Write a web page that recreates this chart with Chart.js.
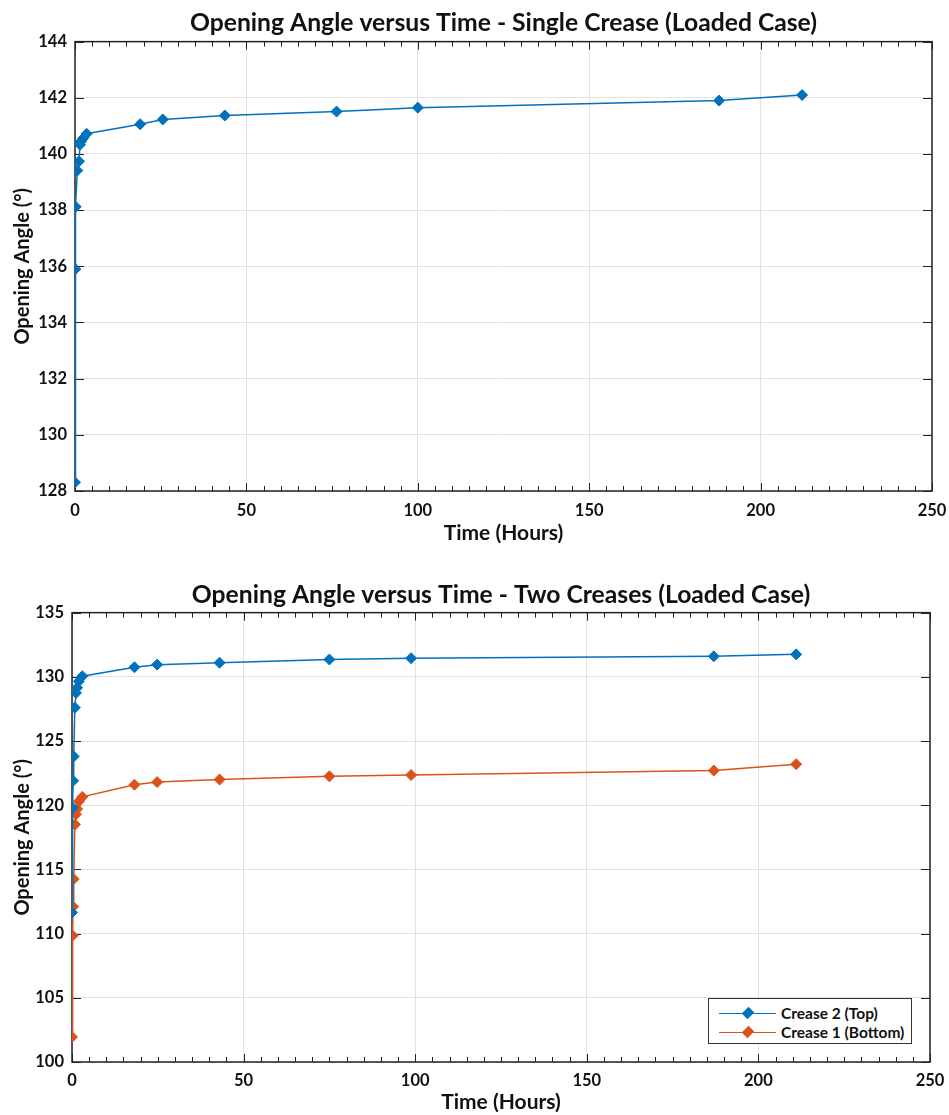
<!DOCTYPE html>
<html>
<head>
<meta charset="utf-8">
<script src="https://cdn.jsdelivr.net/npm/chart.js@4/dist/chart.umd.min.js"></script>
<style>
  body { margin: 0; background: #fff; width: 949px; height: 1115px; position: relative; overflow: hidden; }
  canvas { position: absolute; left: 0; }
  #legend {
    position: absolute; left: 708px; top: 998px; width: 204px; height: 46px;
    border: 1.5px solid #333; background: #fff; box-sizing: border-box;
    font: bold 15.5px Lato, sans-serif; color: #111;
  }
  .row { position: absolute; left: 0; height: 19px; width: 100%; }
  .row .ln { position: absolute; left: 10px; width: 57px; top: 9px; border-top: 1.5px solid; }
  .row .dm { position: absolute; left: 35px; top: 5px; width: 8px; height: 8px; transform: rotate(45deg) scaleY(1.2); }
  .row .tx { position: absolute; left: 72px; top: 0; line-height: 19px; }
</style>
</head>
<body>
<canvas id="topChart" width="949" height="555" style="top:0"></canvas>
<canvas id="bottomChart" width="949" height="560" style="top:555px"></canvas>
<div id="legend"></div>
<script>
// data
const singleTime = [0, 0.1, 0.2, 0.67, 1.17, 1.46, 1.75, 2.4, 3.4, 19, 25.6, 43.7, 76.3, 100, 187.9, 212.1]
const singleAngle = [128.31, 135.9, 138.12, 139.41, 139.74, 140.33, 140.45, 140.56, 140.72, 141.06, 141.23, 141.37, 141.51, 141.65, 141.9, 142.1]

const twoTime = [0, 0.17, 0.33, 0.5, 0.83, 1.17, 1.5, 2, 3, 18.2, 24.8, 43, 75, 98.8, 187, 211]
const crease2Top = [111.65, 119.8, 121.9, 123.8, 127.6, 128.75, 129.15, 129.65, 130.05, 130.75, 130.95, 131.1, 131.35, 131.45, 131.6, 131.75]
const crease1Bottom = [101.95, 109.85, 112.1, 114.25, 118.5, 119.3, 119.7, 120.3, 120.65, 121.6, 121.8, 122.0, 122.25, 122.35, 122.7, 123.2]

const xTicks = [0, 50, 100, 150, 200, 250]
const singleYTicks = [128, 130, 132, 134, 136, 138, 140, 142, 144]
const twoYTicks = [100, 105, 110, 115, 120, 125, 130, 135]

const BLUE = "#0072BD"
const ORANGE = "#D95319"
const FONT = "Lato, 'Open Sans', sans-serif"

// box + inward ticks like the original figure
const frameTicks = {
  id: "frameTicks",
  beforeDatasetsDraw(chart) {
    const { ctx, chartArea: a, scales: { x, y } } = chart
    ctx.save()
    ctx.strokeStyle = "#222"
    ctx.lineWidth = 1
    ctx.beginPath()
    for (let v = x.min; v <= x.max; v += 5) {
      const px = Math.round(x.getPixelForValue(v)) + 0.5
      const len = v % 50 === 0 ? 8 : 5
      ctx.moveTo(px, a.bottom); ctx.lineTo(px, a.bottom - len)
      ctx.moveTo(px, a.top); ctx.lineTo(px, a.top + len)
    }
    y.ticks.forEach((t) => {
      const py = Math.round(y.getPixelForValue(t.value)) + 0.5
      ctx.moveTo(a.left, py); ctx.lineTo(a.left + 9, py)
      ctx.moveTo(a.right, py); ctx.lineTo(a.right - 9, py)
    })
    ctx.stroke()
    ctx.lineWidth = 1.5
    ctx.strokeRect(a.left, a.top, a.right - a.left, a.bottom - a.top)
    ctx.restore()
  },
}

const makeSeries = (label, times, values, color) => ({
  label: label,
  data: times.map((t, i) => ({ x: t, y: values[i] })),
  borderColor: color,
  backgroundColor: color,
  borderWidth: 1.5,
  pointStyle: "rectRot",
  pointRadius: 5.5,
  pointBorderWidth: 1,
  tension: 0,
})

const makeConfig = (datasets, titleText, yTicks, lay) => ({
  type: "line",
  data: { datasets: datasets },
  options: {
    responsive: false,
    animation: false,
    layout: { padding: { left: 0, right: lay.right, top: lay.top, bottom: 0 } },
    plugins: {
      legend: { display: false },
      tooltip: { enabled: false },
      title: {
        display: true,
        fullSize: false,
        text: titleText,
        color: "#111",
        font: { family: FONT, size: 24.7, weight: "bold" },
        padding: { top: 8, bottom: lay.titleBottom },
      },
    },
    scales: {
      x: {
        type: "linear",
        min: 0,
        max: 250,
        afterFit: (scale) => {
          scale.height = lay.xHeight
          scale.paddingLeft = 0
          scale.paddingRight = 0
        },
        afterBuildTicks: (scale) => { scale.ticks = xTicks.map((v) => ({ value: v })) },
        ticks: { color: "#111", padding: lay.xPad, font: { family: FONT, size: 16.5, weight: "bold" } },
        grid: { color: "#e2e2e2", drawTicks: false },
        border: { display: false },
        title: {
          display: true,
          text: "Time (Hours)",
          color: "#111",
          font: { family: FONT, size: 21, weight: "bold" },
          padding: { top: 0, bottom: lay.xTitleBottom },
        },
      },
      y: {
        min: yTicks[0],
        max: yTicks[yTicks.length - 1],
        afterFit: (scale) => { scale.width = lay.yWidth },
        afterBuildTicks: (scale) => { scale.ticks = yTicks.map((v) => ({ value: v })) },
        ticks: { color: "#111", padding: 8, font: { family: FONT, size: 16.5, weight: "bold" } },
        grid: { color: "#e2e2e2", drawTicks: false },
        border: { display: false },
        title: {
          display: true,
          text: "Opening Angle (°)",
          color: "#111",
          font: { family: FONT, size: 20, weight: "bold" },
          padding: { top: 11, bottom: 0 },
        },
      },
    },
  },
  plugins: [frameTicks],
})

new Chart(
  document.getElementById("topChart").getContext("2d"),
  makeConfig(
    [makeSeries("Single Crease", singleTime, singleAngle, BLUE)],
    "Opening Angle versus Time - Single Crease (Loaded Case)",
    singleYTicks,
    { right: 17, top: 0, titleBottom: 4, xHeight: 64, xPad: 10, xTitleBottom: 9, yWidth: 75 }
  )
)

const bottomSeries = [
  makeSeries("Crease 2 (Top)", twoTime, crease2Top, BLUE),
  makeSeries("Crease 1 (Bottom)", twoTime, crease1Bottom, ORANGE),
]
new Chart(
  document.getElementById("bottomChart").getContext("2d"),
  makeConfig(
    bottomSeries,
    "Opening Angle versus Time - Two Creases (Loaded Case)",
    twoYTicks,
    { right: 19, top: 17, titleBottom: 3, xHeight: 53, xPad: 9, xTitleBottom: 0, yWidth: 72 }
  )
)

// legend box in the lower right corner
const legend = document.getElementById("legend")
bottomSeries.forEach((s, i) => {
  const row = document.createElement("div")
  row.className = "row"
  row.style.top = (5 + i * 19) + "px"
  row.innerHTML = `<div class="ln" style="border-color:${s.borderColor}"></div>` +
    `<div class="dm" style="background:${s.borderColor}"></div>` +
    `<div class="tx">${s.label}</div>`
  legend.appendChild(row)
})
</script>
</body>
</html>
